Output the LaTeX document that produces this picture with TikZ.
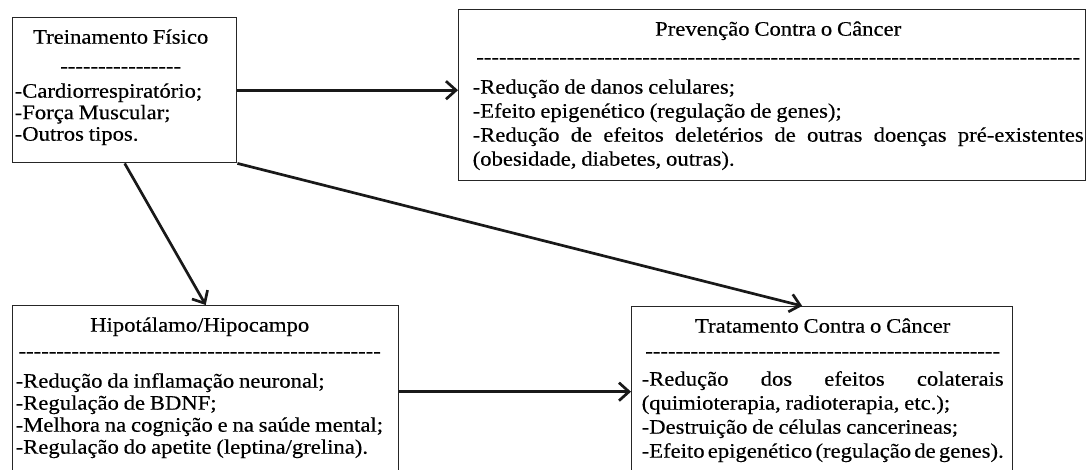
\documentclass[tikz,border=0pt]{standalone}
\usepackage{fontspec}
\setmainfont{Liberation Serif}[FakeStretch=1.10, WordSpace=0.85, FakeBold=0.4]
\usetikzlibrary{arrows.meta}

\newcommand{\tracos}[1]{\makebox[\linewidth]{\hbox to #1{\cleaders\hbox{-}\hfill}}}

\tikzset{
  caixa/.style={draw=black!85, line width=1.4pt, inner sep=0pt, anchor=north west},
  seta/.style={->, line width=2.7pt, black!90},
}

\begin{document}
\begin{tikzpicture}[x=1pt, y=-1pt, >={Straight Barb[length=10pt,width=18pt]}]
  \useasboundingbox (0,0) rectangle (1090,470);
  % caixas
  \node[caixa] (treino) at (12,17) {\hspace*{2pt}\parbox[c][145pt][t]{212pt}{\fontsize{20.6}{21.5}\selectfont
      \makebox[\linewidth]{\rule{0pt}{26pt}Treinamento Físico}\par\vspace{7.5pt}
      \tracos{122pt}\par\vspace{3.5pt}
      -Cardiorrespiratório;\par
      -Força Muscular;\par
      -Outros tipos.}\hspace*{10pt}};
  \node[caixa] (prev) at (458,9) {\hspace*{14pt}\parbox[c][171pt][t]{611pt}{\fontsize{20.6}{24}\selectfont
      \makebox[\linewidth]{\rule{0pt}{26pt}Prevenção Contra o Câncer}\par\vspace{4pt}
      \tracos{\linewidth}\par\vspace{6pt}
      -Redução de danos celulares;\par
      -Efeito epigenético (regulação de genes);\par
      -Redução de efeitos deletérios de outras doenças pré-existentes\linebreak
      (obesidade, diabetes, outras).}\hspace*{2pt}};
  \node[caixa] (hipo) at (12,305) {\hspace*{3pt}\parbox[c][172pt][t]{368pt}{\fontsize{20.6}{22}\selectfont
      \makebox[\linewidth]{\rule{0pt}{26pt}Hipotálamo/Hipocampo}\par\vspace{4pt}
      \tracos{\linewidth}\par\vspace{8pt}
      -Redução da inflamação neuronal;\par
      -Regulação de BDNF;\par
      -Melhora na cognição e na saúde mental;\par
      -Regulação do apetite (leptina/grelina).}\hspace*{15pt}};
  \node[caixa] (trat) at (631,306) {\hspace*{10pt}\parbox[c][170pt][t]{362pt}{\fontsize{20.6}{24}\selectfont
      \makebox[\linewidth]{\rule{0pt}{26pt}Tratamento Contra o Câncer}\par\vspace{1pt}
      \tracos{\linewidth}\par\vspace{4pt}
      -Redução dos efeitos colaterais\linebreak
      (quimioterapia, radioterapia, etc.);\par
      -Destruição de células cancerineas;\par
      -Efeito epigenético (regulação de genes).}\hspace*{9pt}};
  % setas
  \draw[seta] (treino.east) -- (treino.east -| prev.west);
  \draw[seta] (treino.south) -- (hipo.north);
  \draw[seta] (treino.south east) -- ([xshift=-20pt]trat.north);
  \draw[seta] (hipo.east) -- (trat.west);
\end{tikzpicture}
\end{document}
